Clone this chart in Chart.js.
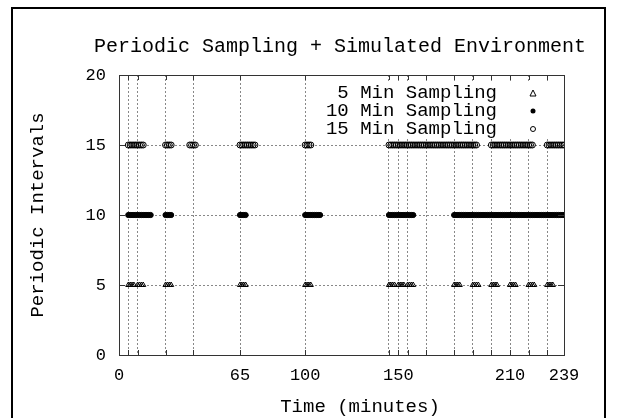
<html>
<head>
<meta charset="utf-8" />
<title>Periodic Sampling</title>
<style>
  body { margin: 0; background: #fff; }
  #chart { display: block; }
</style>
</head>
<body>
<canvas id="chart" width="617" height="418"></canvas>

<script src="https://cdn.jsdelivr.net/npm/chart.js"></script>
<script>

// sample times (minutes) for each sampling mode
var sampling5 = [5,6,7,8, 10,11,12,13, 25,26,27,28, 65,66,67,68, 100,101,102,103,
  145,146,147,148, 150,151,152,153, 155,156,157,158, 180,181,182,183, 190,191,192,193,
  200,201,202,203, 210,211,212,213, 220,221,222,223, 230,231,232,233];
var sampling10 = [5,6,7,8,9,10,11,12,13,14,15,16,17, 25,26,27,28, 65,66,67,68,
  100,101,102,103,104,105,106,107,108,
  145,146,147,148,149,150,151,152,153,154,155,156,157,158,
  180,181,182,183,184,185,186,187,188,189,190,191,192,193,194,195,196,197,198,199,
  200,201,202,203,204,205,206,207,208,209,210,211,212,213,214,215,216,217,218,219,
  220,221,222,223,224,225,226,227,228,229,230,231,232,233,234,235,236,237,238,239];
var sampling15 = [5,6,7,8,9,10,11,12,13, 25,26,27,28, 38,39,40,41,
  65,66,67,68,69,70,71,72,73, 100,101,102,103,
  145,146,147,148,149,150,151,152,153,154,155,156,157,158,159,160,161,162,163,164,
  165,166,167,168,169,170,171,172,173,174,175,176,177,178,179,180,181,182,183,184,
  185,186,187,188,189,190,191,192,
  200,201,202,203,204,205,206,207,208,209,210,211,212,213,214,215,216,217,218,219,220,221,222,
  230,231,232,233,234,235,236,237,238,239];

var seriesNames = ['5 Min Sampling', '10 Min Sampling', '15 Min Sampling'];
var seriesLevels = [5, 10, 15];

var xGrid = [0, 5, 10, 25, 40, 65, 100, 145, 150, 155, 165, 180, 190, 200, 210, 220, 230, 239];
var xLabels = [0, 65, 100, 150, 210, 239];
var yTicks = [0, 5, 10, 15, 20];

var FONT = '"Liberation Mono", "DejaVu Sans Mono", monospace';

function toPoints(times, level) {
  return times.map(function (t) { return { x: t, y: level }; });
}

var frame = {
  id: 'frame',
  afterDraw: function (chart) {
    var c = chart.ctx;
    var a = chart.chartArea;
    var xs = chart.scales.x, ys = chart.scales.y;
    c.save();

    // outer border
    c.strokeStyle = '#000';
    c.lineWidth = 2;
    c.strokeRect(12, 8, 593, 420);

    // plot border
    c.lineWidth = 1;
    c.strokeStyle = '#333';
    c.strokeRect(a.left + 0.5, a.top + 0.5, a.right - a.left, a.bottom - a.top);

    // inward ticks, mirrored
    c.beginPath();
    xGrid.forEach(function (v) {
      var px = Math.round(xs.getPixelForValue(v)) + 0.5;
      c.moveTo(px, a.bottom); c.lineTo(px, a.bottom - 5);
      c.moveTo(px, a.top); c.lineTo(px, a.top + 5);
    });
    yTicks.forEach(function (v) {
      var py = Math.round(ys.getPixelForValue(v)) + 0.5;
      c.moveTo(a.left, py); c.lineTo(a.left + 6, py);
      c.moveTo(a.right, py); c.lineTo(a.right - 6, py);
    });
    c.stroke();

    // key
    c.fillStyle = '#fff';
    c.fillRect(312, 82, 250, 56);
    c.fillStyle = '#000';
    c.font = '19px ' + FONT;
    c.textAlign = 'right';
    c.textBaseline = 'middle';
    seriesNames.forEach(function (n, i) {
      c.fillText(n, 497, 93 + i * 18);
    });
    // key symbols
    c.lineWidth = 1;
    c.strokeStyle = '#000';
    c.beginPath();
    c.moveTo(533, 90); c.lineTo(536, 96); c.lineTo(530, 96); c.closePath();
    c.stroke();
    c.beginPath();
    c.arc(533, 111, 2.5, 0, Math.PI * 2);
    c.fill();
    c.beginPath();
    c.arc(533, 129, 2.5, 0, Math.PI * 2);
    c.stroke();

    // titles
    c.textAlign = 'center';
    c.fillText('Time (minutes)', 360, 407);
    c.font = '20px ' + FONT;
    c.fillText('Periodic Sampling + Simulated Environment', 340, 47);
    c.font = '19px ' + FONT;
    c.translate(38, 215);
    c.rotate(-Math.PI / 2);
    c.fillText('Periodic Intervals', 0, 0);
    c.restore();
  }
};

var ctx = document.getElementById('chart');
var data = {
  datasets: [{
    label: seriesNames[0],
    data: toPoints(sampling5, seriesLevels[0]),
    pointStyle: 'triangle',
    radius: 3,
    borderColor: '#000',
    backgroundColor: 'rgba(0,0,0,0)',
    borderWidth: 1
  }, {
    label: seriesNames[1],
    data: toPoints(sampling10, seriesLevels[1]),
    pointStyle: 'circle',
    radius: 2.6,
    borderColor: '#000',
    backgroundColor: '#000',
    borderWidth: 1
  }, {
    label: seriesNames[2],
    data: toPoints(sampling15, seriesLevels[2]),
    pointStyle: 'circle',
    radius: 3,
    borderColor: '#000',
    backgroundColor: 'rgba(255,255,255,0)',
    borderWidth: 1
  }]
};

var options = {
  responsive: false,
  animation: false,
  devicePixelRatio: 1,
  layout: { padding: { left: 0, top: 75, right: 53, bottom: 0 } },
  plugins: { legend: { display: false }, tooltip: { enabled: false } },
  scales: {
    x: {
      type: 'linear',
      min: 0,
      max: 239,
      afterBuildTicks: function (scale) {
        scale.ticks = xGrid.map(function (v) { return { value: v }; });
      },
      afterFit: function (scale) { scale.height = 63; },
      border: { display: false, dash: [2, 2] },
      grid: { color: '#888', lineWidth: 1, drawTicks: false },
      ticks: {
        autoSkip: false,
        maxRotation: 0,
        padding: 10,
        color: '#000',
        font: { family: FONT, size: 17 },
        callback: function (v) { return xLabels.indexOf(v) >= 0 ? String(v) : ''; }
      }
    },
    y: {
      min: 0,
      max: 20,
      afterBuildTicks: function (scale) {
        scale.ticks = yTicks.map(function (v) { return { value: v }; });
      },
      afterFit: function (scale) { scale.width = 119; },
      border: { display: false, dash: [2, 2] },
      grid: { color: '#888', lineWidth: 1, drawTicks: false },
      ticks: {
        padding: 13,
        color: '#000',
        font: { family: FONT, size: 17 }
      }
    }
  }
};

var chart = new Chart(ctx, { type: 'scatter', data: data, options: options, plugins: [frame] });

</script>
</body>
</html>
